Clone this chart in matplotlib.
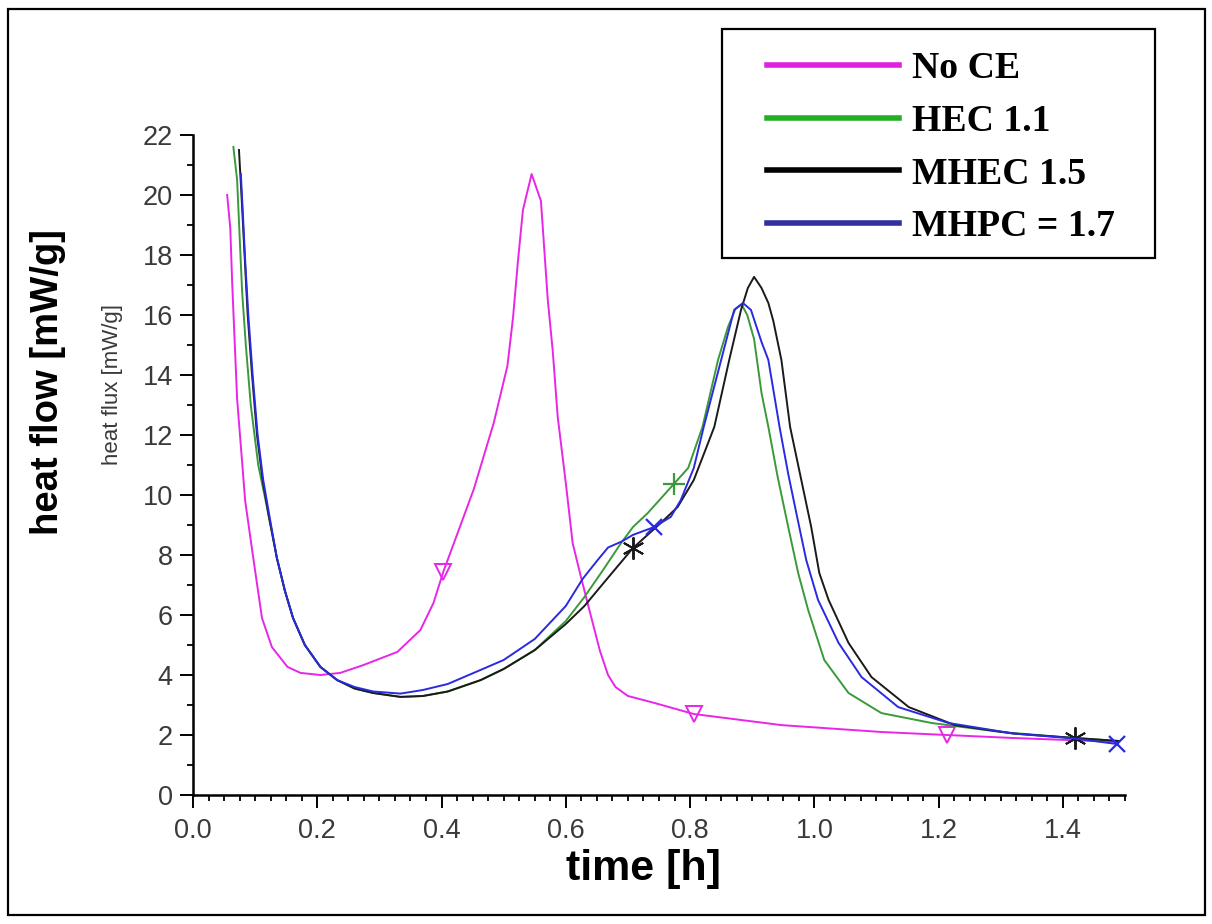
import numpy as np
import matplotlib
matplotlib.use("Agg")
import matplotlib.pyplot as plt
from matplotlib.lines import Line2D
from matplotlib.patches import Rectangle
from matplotlib.ticker import MultipleLocator

plt.rcParams['font.family'] = ['Liberation Sans', 'DejaVu Sans']

# heat flow curves, time in h, heat flux in mW/g
t_noce = [0.055, 0.060, 0.063, 0.071, 0.084, 0.097, 0.111, 0.127, 0.152, 0.173, 0.205, 0.237,
          0.274, 0.329, 0.366, 0.387, 0.403, 0.420, 0.452, 0.484, 0.506, 0.515, 0.523, 0.531,
          0.545, 0.560, 0.571, 0.579, 0.587, 0.600, 0.611, 0.624, 0.640, 0.655, 0.668, 0.680,
          0.700, 0.737, 0.806, 0.947, 1.108, 1.213, 1.320, 1.490]
q_noce = [20.0, 18.9, 17.1, 13.2, 9.8, 7.9, 5.9, 4.93, 4.27, 4.07, 4.0, 4.07,
          4.33, 4.77, 5.5, 6.4, 7.45, 8.4, 10.2, 12.4, 14.3, 15.9, 17.8, 19.5,
          20.7, 19.8, 16.5, 14.8, 12.6, 10.4, 8.4, 7.3, 6.0, 4.8, 4.0, 3.6,
          3.3, 3.1, 2.7, 2.33, 2.1, 2.0, 1.9, 1.77]

t_hec = [0.065, 0.071, 0.079, 0.085, 0.093, 0.105, 0.119, 0.135, 0.148, 0.161, 0.180, 0.205,
         0.232, 0.260, 0.290, 0.334, 0.370, 0.410, 0.463, 0.500, 0.550, 0.600, 0.630, 0.660,
         0.689, 0.708, 0.732, 0.774, 0.797, 0.820, 0.845, 0.861, 0.873, 0.883, 0.892, 0.903,
         0.915, 0.926, 0.941, 0.958, 0.974, 0.990, 1.016, 1.055, 1.108, 1.189, 1.300, 1.400,
         1.490]
q_hec = [21.6, 20.5, 16.8, 15.0, 13.0, 11.0, 9.6, 7.9, 6.8, 5.9, 5.0, 4.27,
         3.83, 3.55, 3.4, 3.27, 3.3, 3.45, 3.83, 4.2, 4.83, 5.8, 6.6, 7.5,
         8.4, 8.93, 9.4, 10.37, 10.9, 12.27, 14.5, 15.6, 16.2, 16.35, 16.0, 15.2,
         13.4, 12.27, 10.6, 8.93, 7.4, 6.17, 4.5, 3.4, 2.73, 2.4, 2.1, 1.93,
         1.8]

t_mhec = [0.074, 0.078, 0.083, 0.088, 0.095, 0.103, 0.112, 0.122, 0.135, 0.148, 0.161, 0.180,
          0.205, 0.232, 0.260, 0.290, 0.334, 0.370, 0.410, 0.463, 0.500, 0.550, 0.600, 0.630,
          0.665, 0.708, 0.753, 0.780, 0.806, 0.839, 0.863, 0.882, 0.893, 0.903, 0.915, 0.926,
          0.934, 0.947, 0.961, 0.978, 0.995, 1.008, 1.023, 1.055, 1.092, 1.152, 1.226, 1.320,
          1.419, 1.490]
q_mhec = [21.5, 20.0, 18.0, 16.0, 14.0, 12.0, 10.5, 9.3, 7.9, 6.8, 5.9, 5.0,
          4.27, 3.83, 3.55, 3.4, 3.27, 3.3, 3.45, 3.83, 4.2, 4.83, 5.7, 6.3,
          7.17, 8.23, 9.07, 9.6, 10.5, 12.27, 14.5, 16.17, 16.9, 17.27, 16.9, 16.4,
          15.8, 14.5, 12.27, 10.6, 8.93, 7.4, 6.5, 5.07, 3.93, 2.93, 2.33, 2.05,
          1.9, 1.8]

t_mhpc = [0.077, 0.080, 0.084, 0.089, 0.096, 0.104, 0.113, 0.123, 0.135, 0.148, 0.161, 0.180,
          0.205, 0.232, 0.260, 0.290, 0.334, 0.370, 0.410, 0.463, 0.500, 0.550, 0.600, 0.627,
          0.650, 0.668, 0.690, 0.708, 0.742, 0.769, 0.785, 0.806, 0.822, 0.850, 0.871, 0.885,
          0.898, 0.915, 0.926, 0.944, 0.958, 0.972, 0.987, 1.006, 1.039, 1.076, 1.135, 1.216,
          1.320, 1.420, 1.487]
q_mhpc = [20.7, 19.5, 17.8, 16.0, 14.0, 12.0, 10.5, 9.3, 7.9, 6.8, 5.9, 5.0,
          4.27, 3.83, 3.6, 3.45, 3.38, 3.5, 3.7, 4.17, 4.5, 5.2, 6.3, 7.2,
          7.8, 8.25, 8.45, 8.67, 8.93, 9.27, 9.83, 10.9, 12.27, 14.5, 16.17, 16.4,
          16.17, 15.1, 14.5, 12.27, 10.7, 9.3, 7.83, 6.5, 5.07, 3.93, 2.93, 2.4,
          2.05, 1.88, 1.7]

# marker positions along each curve (h)
mk_noce = [0.403, 0.806, 1.213]
mk_hec = [0.774]
mk_mhec = [0.708, 1.419]
mk_mhpc = [0.742, 1.487]

labels = ['No CE', 'HEC 1.1', 'MHEC 1.5', 'MHPC = 1.7']
line_colors = ['#e826e8', '#3a9a3a', '#1a1a1a', '#2a2ae0']
legend_colors = ['#e020e0', '#22b022', '#000000', '#3030a0']

fig = plt.figure(figsize=(12.12, 9.24), dpi=100)
ax = fig.add_axes([193/1212, 129/924, 932/1212, 660/924])

series = [(t_noce, q_noce, mk_noce, 'v', 11, 1.4),
          (t_hec, q_hec, mk_hec, '+', 16, 1.6),
          (t_mhec, q_mhec, mk_mhec, (6, 2, 0), 16, 1.4),
          (t_mhpc, q_mhpc, mk_mhpc, 'x', 12, 1.6)]

for (t, q, mk, m, ms, mew), c in zip(series, line_colors):
    ax.plot(t, q, color=c, lw=1.4)
    ax.plot(mk, np.interp(mk, t, q), ls='none', marker=m, ms=ms, mew=mew,
            mfc='none', mec=c)

ax.set_xlim(0, 1.5)
ax.set_ylim(0, 22)
ax.xaxis.set_major_locator(MultipleLocator(0.2))
ax.xaxis.set_minor_locator(MultipleLocator(0.025))
ax.yaxis.set_major_locator(MultipleLocator(2))
ax.yaxis.set_minor_locator(MultipleLocator(1))
ax.set_xticks([0, 0.2, 0.4, 0.6, 0.8, 1.0, 1.2, 1.4])
ax.set_xticklabels(['0.0', '0.2', '0.4', '0.6', '0.8', '1.0', '1.2', '1.4'])

for s in ['top', 'right']:
    ax.spines[s].set_visible(False)
for s in ['left', 'bottom']:
    ax.spines[s].set_linewidth(1.8)
ax.tick_params(which='major', length=9.5, width=1.4, labelsize=19.5,
               labelcolor='#3a3a3a', direction='out')
ax.tick_params(which='minor', length=4.5, width=1.3, direction='out')
ax.tick_params(axis='y', which='major', pad=5)
ax.tick_params(axis='x', which='major', pad=7)

fig.text(643/1212, 1 - 869/924, 'time [h]', fontsize=31, fontweight='bold',
         ha='center', va='center')
fig.text(0.040, 0.587, 'heat flow [mW/g]', rotation=90, fontsize=27.5,
         fontweight='bold', ha='center', va='center')
fig.text(0.093, 0.584, 'heat flux [mW/g]', rotation=90, fontsize=16,
         color='#3a3a3a', ha='center', va='center')

# legend: lines without markers, serif bold labels, plain box around it
handles = [Line2D([], [], color=c, lw=4) for c in legend_colors]
fig.legend(handles, labels, loc='upper left',
           bbox_to_anchor=(767/1212, 1 - 51/924), frameon=False,
           prop={'family': 'Liberation Serif', 'weight': 'bold', 'size': 27.2},
           handlelength=3.5, handletextpad=0.35, labelspacing=0.47,
           borderpad=0, borderaxespad=0)
fig.patches.append(Rectangle((722/1212, 1 - 258/924), 433/1212, 229/924,
                             transform=fig.transFigure, fill=False,
                             ec='black', lw=1.6))

# frame round the whole picture
fig.patches.append(Rectangle((8/1212, 1 - 915/924), 1197/1212, 906/924,
                             transform=fig.transFigure, fill=False,
                             ec='black', lw=1.6))

fig.savefig('out.png', dpi=100)
